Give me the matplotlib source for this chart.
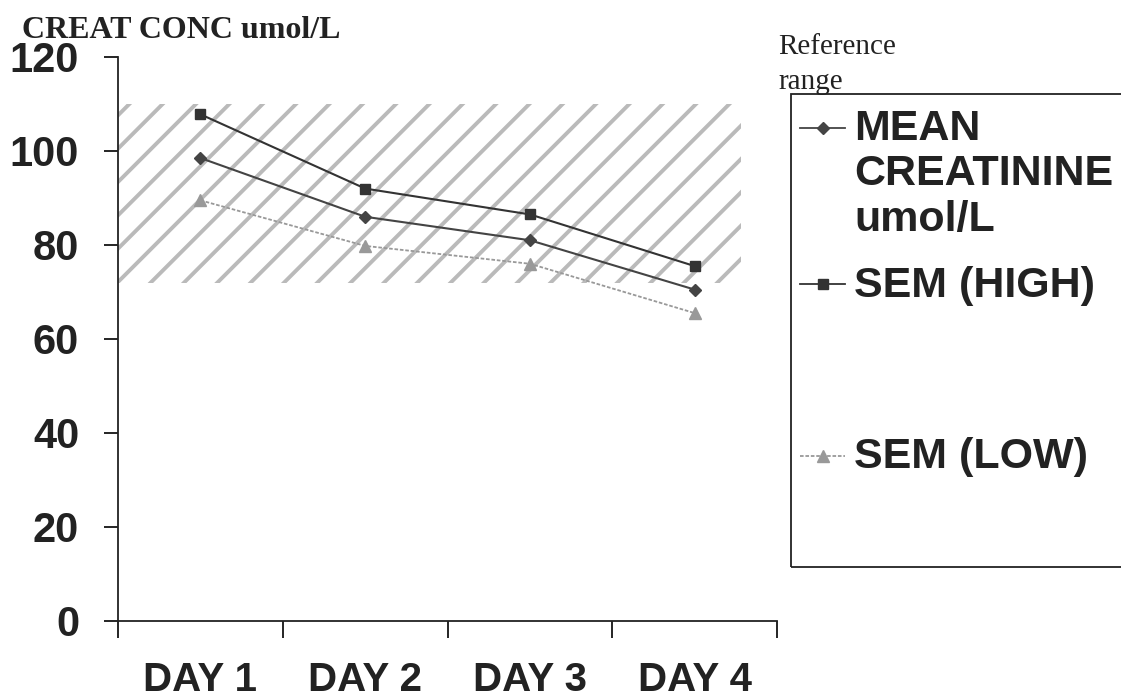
import matplotlib
matplotlib.use("Agg")
import matplotlib.pyplot as plt
from matplotlib.lines import Line2D
from matplotlib.patches import Rectangle

days = ["DAY 1", "DAY 2", "DAY 3", "DAY 4"]
mean_creat = [98.5, 86.0, 81.0, 70.5]
sem_high = [107.8, 92.0, 86.5, 75.5]
sem_low = [89.5, 79.8, 76.0, 65.5]
ref_low, ref_high = 72, 110
yticks = [0, 20, 40, 60, 80, 100, 120]

plt.rcParams['hatch.linewidth'] = 2.8
fig = plt.figure(figsize=(11.21, 7.0), dpi=100)
ax = fig.add_axes([0.1053, 0.1129, 0.5880, 0.8057])

x = list(range(len(days)))
ax.fill_between([-0.55, 3.28], ref_low, ref_high, facecolor='white',
                edgecolor='#bababa', hatch='/', linewidth=0, zorder=1)

ax.plot(x, sem_high, color='#333333', lw=1.5, marker='s', ms=7, zorder=3)
ax.plot(x, mean_creat, color='#444444', lw=1.5, marker='D', ms=6, zorder=3)
ax.plot(x, sem_low, color='#999999', lw=1.3, ls=(0, (2, 1)), marker='^', ms=8, zorder=3)

ax.set_xlim(-0.5, 3.5)
ax.set_ylim(0, 120)
ax.set_yticks(yticks)
ax.set_yticklabels([str(v) for v in yticks], fontsize=30, fontweight='bold',
                   family='Liberation Sans', color='#222222')
ax.set_xticks([-0.5, 0.5, 1.5, 2.5, 3.5])
ax.set_xticklabels([])
ax.set_xticks(x, minor=True)
ax.set_xticklabels(days, minor=True, fontsize=29, fontweight='bold',
                   family='Liberation Sans', color='#222222')
ax.tick_params(axis='x', which='major', direction='out', length=12, width=1.2)
ax.tick_params(axis='x', which='minor', length=0, pad=29)
ax.tick_params(axis='y', direction='out', length=10, width=1.2, pad=18)
for s in ['top', 'right']:
    ax.spines[s].set_visible(False)
for s in ['left', 'bottom']:
    ax.spines[s].set_linewidth(1.3)
    ax.spines[s].set_color('#222222')

fig.text(0.020, 0.957, "CREAT CONC umol/L", family='Liberation Serif',
         fontweight='bold', fontsize=23, va='center', ha='left', color='#222222')
fig.text(0.694, 0.908, "Reference\nrange", family='Liberation Serif',
         fontsize=21, va='center', ha='left', color='#222222', linespacing=1.45)

# legend box
fig.patches.append(Rectangle((0.706, 0.19), 0.32, 0.676, transform=fig.transFigure,
                             fill=False, edgecolor='#222222', lw=1.3))
entries = [("MEAN\nCREATININE\numol/L", 0.751, '#444444', 'D', 6, '-', 0.817),
           ("SEM (HIGH)", 0.592, '#333333', 's', 7, '-', 0.594),
           ("SEM (LOW)", 0.347, '#999999', '^', 8, (0, (2, 1)), 0.349)]
for label, ty, col, mk, ms, ls, ly in entries:
    fig.lines.append(Line2D([0.714, 0.754], [ly, ly], transform=fig.transFigure,
                            color=col, lw=1.3, ls=ls, marker=None))
    fig.lines.append(Line2D([0.734], [ly], transform=fig.transFigure,
                            color=col, marker=mk, ms=ms, ls='none'))
    fig.text(0.762, ty, label, family='Liberation Sans', fontweight='bold',
             fontsize=31, va='center', ha='left', color='#222222', linespacing=1.17)

fig.savefig("out.png", dpi=100, facecolor='white')
